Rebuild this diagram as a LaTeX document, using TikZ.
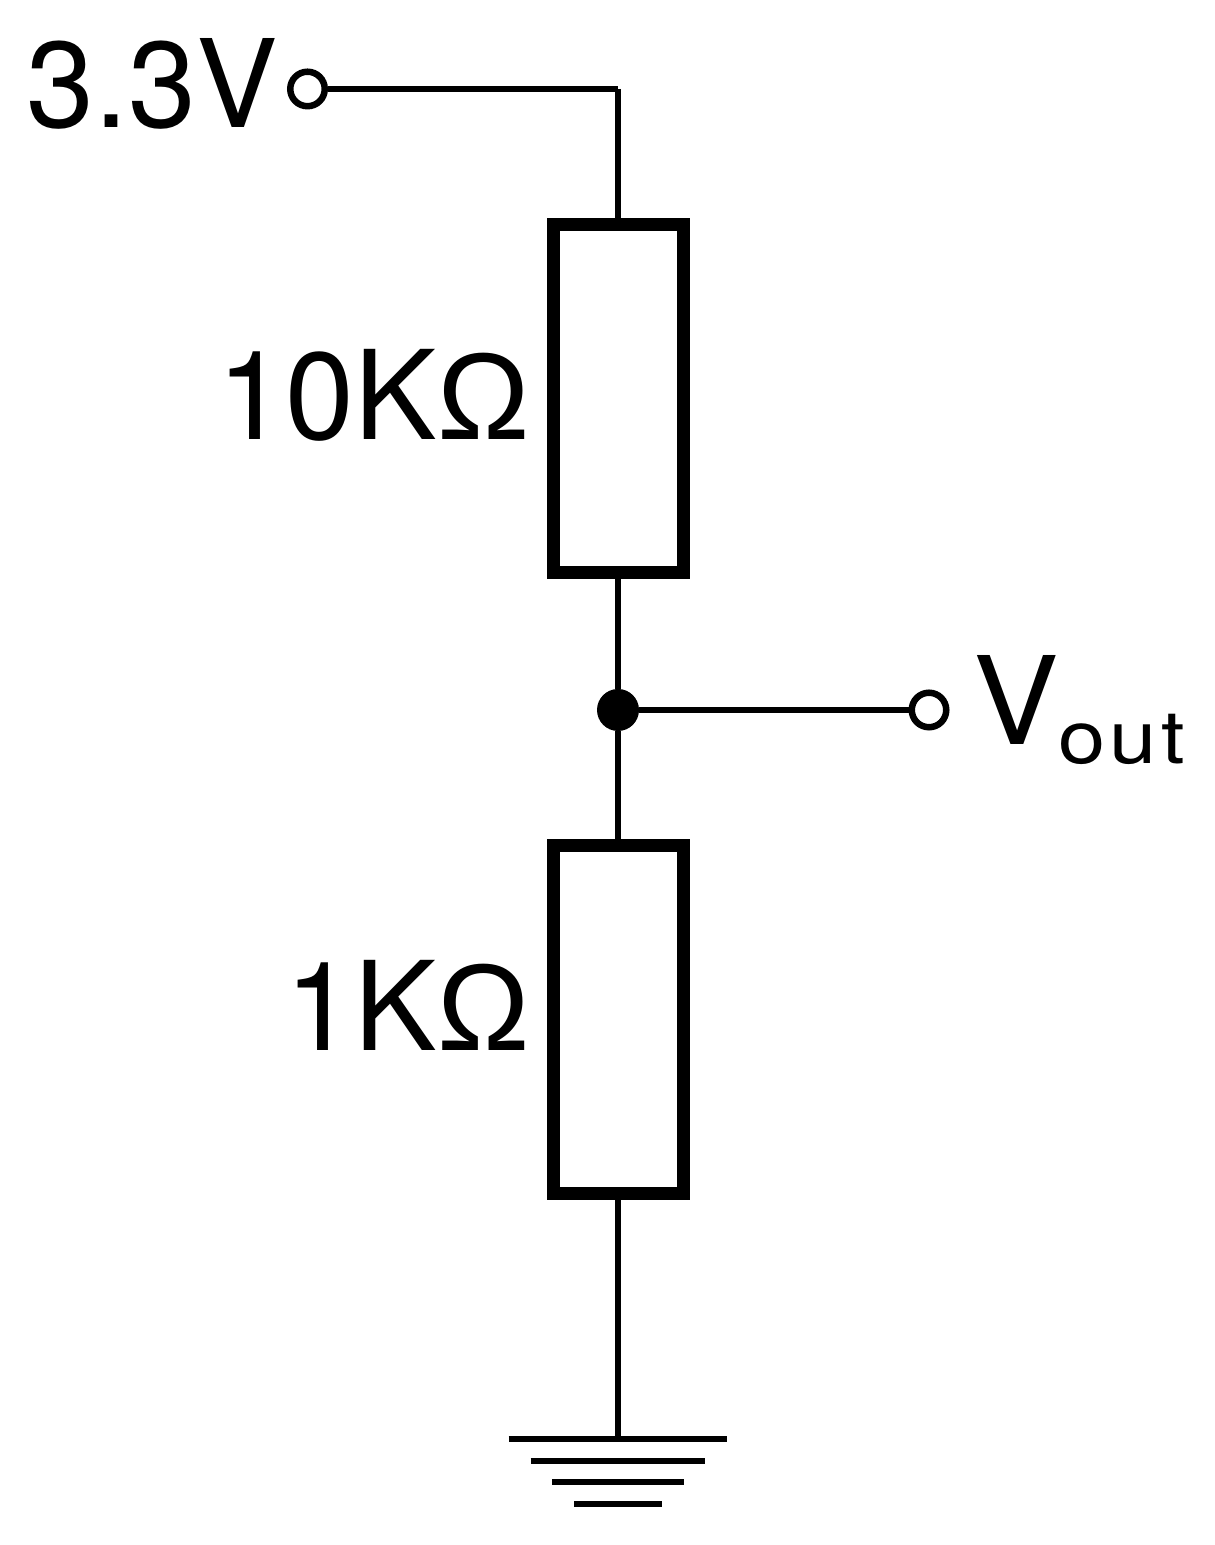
\documentclass[tikz,border=0pt]{standalone}
\usepackage{fontspec}
\setmainfont{TeX Gyre Heros}
\newfontfamily\omegafont{Liberation Sans}
\newfontfamily\subfont[FakeStretch=1.15,LetterSpace=6]{TeX Gyre Heros}
\newfontfamily\widefont[FakeStretch=1.05]{TeX Gyre Heros}
\usetikzlibrary{positioning}
\tikzset{wire/.style = {line width=3.7pt}}
\tikzset{resistor/.style = {draw, line width=7.4pt, minimum width=2.6cm, inner sep=0}}
\tikzset{terminal/.style = {circle, draw, fill=white, line width=3.7pt, minimum size=0.69cm, inner sep=0}}
\tikzset{joint/.style = {circle, fill=black, minimum size=0.84cm, inner sep=0}}
\tikzset{label/.style = {draw=none, inner sep=0, font=\fontsize{69.5}{70}\selectfont}}
\tikzset{rlabel/.style = {label, font=\fontsize{70.4}{70}\selectfont}}
\tikzset{earth/.style = {draw=none, inner sep=0, minimum height=0}}

\begin{document}
\begin{tikzpicture}
\useasboundingbox (0, 0) rectangle (24.28, 30.9);
% supply side
\node [terminal] (Vin) at (6.15, 29.12) {};
\coordinate (C) at (12.36, 29.12);
\node [resistor, minimum height=6.96cm] (Rt) at (12.36, 22.92) {};
\node [joint] (J) at (12.36, 16.7) {};
\node [terminal] (Vout) at (18.58, 16.7) {};
\node [resistor, minimum height=6.96cm] (Rb) at (12.36, 10.5) {};
% ground bars
\node [earth, minimum width=4.36cm] (G1) at (12.36, 2.12) {};
\node [earth, minimum width=3.48cm] (G2) at (12.36, 1.68) {};
\node [earth, minimum width=2.62cm] (G3) at (12.36, 1.26) {};
\node [earth, minimum width=1.74cm] (G4) at (12.36, 0.82) {};
% labels
\node [label, anchor=base east] (Lin) at (5.56, 28.34) {3.3V};
\node [rlabel, anchor=base east] (Lt) at (10.6, 22.1) {10K{\omegafont Ω}};
\node [rlabel, anchor=base east] (Lb) at (10.6, 9.88) {1K{\omegafont Ω}};
\node [label, anchor=base west, font=\fontsize{69.5}{70}\widefont] (Lout) at (19.47, 16) {V};
\node [label, anchor=base west, font=\fontsize{42}{42}\subfont] (Lsub) at (21.16, 15.62) {out};
% wires
\draw [wire] (Vin) -- (C);
\draw [wire] (C) -- (Rt);
\draw [wire] (Rt) -- (J);
\draw [wire] (J) -- (Rb);
\draw [wire] (J) -- (Vout);
\draw [wire] (Rb) -- (G1.center);
\draw [wire] (G1.west) -- (G1.east);
\draw [wire] (G2.west) -- (G2.east);
\draw [wire] (G3.west) -- (G3.east);
\draw [wire] (G4.west) -- (G4.east);
\end{tikzpicture}
\end{document}
